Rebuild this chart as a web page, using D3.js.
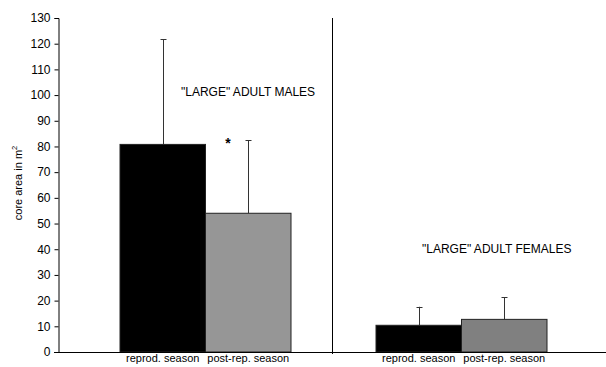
<!DOCTYPE html>
<html>
<head>
<meta charset="utf-8">
<script src="https://cdn.jsdelivr.net/npm/d3@7"></script>
<style>
  body { margin: 0; background: #fff; }
  svg { font-family: "Liberation Sans", Arial, sans-serif; }
</style>
</head>
<body>
<svg id="chart" width="606" height="367"></svg>
<script>
// data
const groups = ['"LARGE" ADULT MALES', '"LARGE" ADULT FEMALES'];
const seasons = ['reprod. season', 'post-rep. season'];
const means = [[80.8, 54.0], [10.4, 12.7]];
const errTops = [[121.8, 82.5], [17.6, 21.3]];
const yTicks = [0, 10, 20, 30, 40, 50, 60, 70, 80, 90, 100, 110, 120, 130];

const svg = d3.select('#chart');
const plotL = 58, plotR = 606, plotT = 18, plotB = 352;

const y = d3.scaleLinear().domain([0, 130]).range([plotB, plotT]);

// each group gets half the axis, divider sits on the boundary
const x0 = d3.scaleBand().domain(groups).range([plotL, plotR]);
// bars are not centred in their half in the original
const groupStart = [62, 44];
const barW = 85.5;
const fills = [['#000', '#969696'], ['#000', '#808080']];

groups.forEach((g, gi) => {
  const x1 = d3.scaleBand().domain(seasons)
    .range([x0(g) + groupStart[gi], x0(g) + groupStart[gi] + barW * 2]);

  const gg = svg.append('g');

  // error bars first so bars cover the lower part
  gg.selectAll('.err')
    .data(seasons)
    .enter()
    .append('g')
    .each(function (s, si) {
      const cx = Math.round(x1(s) + x1.bandwidth() / 2) + 0.5;
      const sel = d3.select(this);
      sel.append('line')
        .attr('x1', cx).attr('x2', cx)
        .attr('y1', y(means[gi][si])).attr('y2', y(errTops[gi][si]))
        .attr('stroke', '#333').attr('stroke-width', 1);
      sel.append('line')
        .attr('x1', cx - 3).attr('x2', cx + 3)
        .attr('y1', Math.round(y(errTops[gi][si])) + 0.5)
        .attr('y2', Math.round(y(errTops[gi][si])) + 0.5)
        .attr('stroke', '#333').attr('stroke-width', 1);
    });

  gg.selectAll('.bar')
    .data(seasons)
    .enter()
    .append('rect')
    .attr('x', s => x1(s))
    .attr('y', (s, si) => y(means[gi][si]))
    .attr('width', x1.bandwidth())
    .attr('height', (s, si) => plotB - y(means[gi][si]))
    .attr('fill', (s, si) => fills[gi][si])
    .attr('stroke', '#222')
    .attr('stroke-width', 1);

  gg.selectAll('.lab')
    .data(seasons)
    .enter()
    .append('text')
    .attr('x', s => x1(s) + x1.bandwidth() / 2)
    .attr('y', 362)
    .attr('text-anchor', 'middle')
    .attr('font-size', 11)
    .text(s => s);
});

// group titles
svg.append('text').attr('x', 181).attr('y', 96).attr('font-size', 12).text(groups[0]);
svg.append('text').attr('x', 422).attr('y', 253).attr('font-size', 12).text(groups[1]);

// significance star
svg.append('text').attr('x', 228).attr('y', 148).attr('text-anchor', 'middle')
  .attr('font-size', 14).attr('font-weight', 'bold').text('*');

// divider between the two groups
svg.append('line')
  .attr('x1', x0(groups[1]) + 0.5).attr('x2', x0(groups[1]) + 0.5)
  .attr('y1', plotT).attr('y2', plotB + 2)
  .attr('stroke', '#000');

// y axis
const yAxis = svg.append('g')
  .attr('transform', `translate(${plotL + 0.5},0)`)
  .call(d3.axisLeft(y).tickValues(yTicks).tickSize(4).tickPadding(4));
yAxis.select('.domain').attr('stroke', '#000');
yAxis.selectAll('text').attr('font-size', 12).attr('fill', '#000').attr('font-family', '"Liberation Sans", Arial, sans-serif');

// x axis line
svg.append('line')
  .attr('x1', plotL - 4).attr('x2', plotR)
  .attr('y1', plotB + 0.5).attr('y2', plotB + 0.5)
  .attr('stroke', '#000');

// y axis title with superscript
const yt = svg.append('text')
  .attr('transform', 'translate(22,183) rotate(-90)')
  .attr('text-anchor', 'middle')
  .attr('font-size', 11);
yt.append('tspan').text('core area in m');
yt.append('tspan').attr('dy', -5).attr('font-size', 7.5).text('2');
</script>
</body>
</html>
